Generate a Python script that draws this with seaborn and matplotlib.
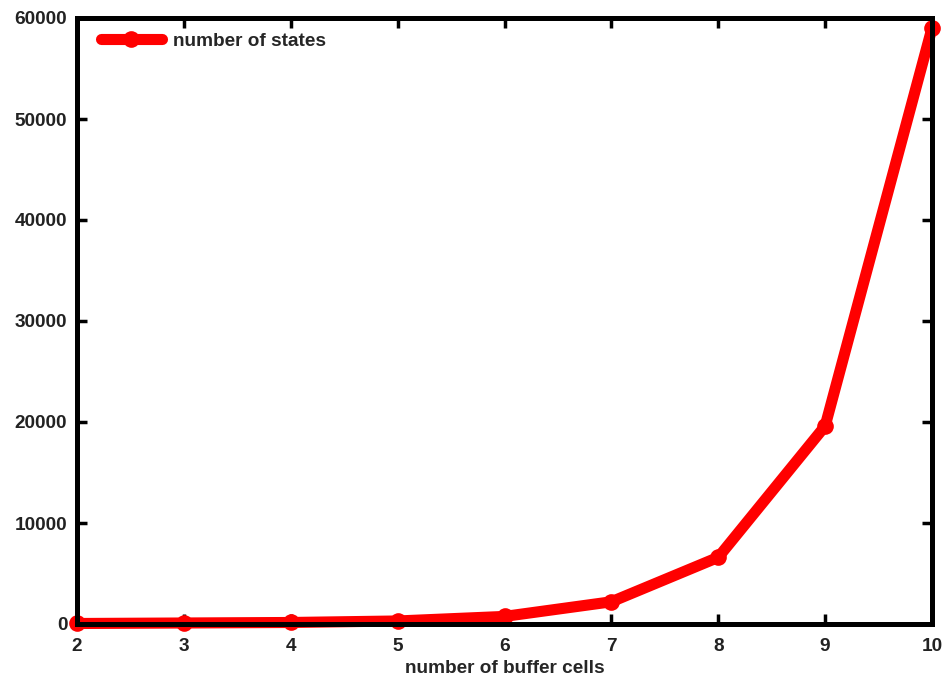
import matplotlib
matplotlib.use("Agg")
import matplotlib.pyplot as plt
import seaborn as sns
import pandas as pd

# values
buffer_cells = [2, 3, 4, 5, 6, 7, 8, 9, 10]
num_states = [50, 100, 150, 300, 750, 2200, 6600, 19600, 59000]

x_ticks = [2, 3, 4, 5, 6, 7, 8, 9, 10]
y_ticks = [0, 10000, 20000, 30000, 40000, 50000, 60000]

df = pd.DataFrame({"cells": buffer_cells, "states": num_states})

sns.set_theme(style="white")
plt.rcParams["font.family"] = ["Liberation Sans", "DejaVu Sans"]
plt.rcParams["font.weight"] = "bold"

FS = 13.7

fig = plt.figure(figsize=(9.43, 6.83), dpi=100)
ax = fig.add_axes([77 / 943, 1 - 624 / 683, (932 - 77) / 943, (624 - 18) / 683])

# frame is drawn on top of the curve, curve may spill past it
sns.lineplot(data=df, x="cells", y="states", ax=ax, color="#ff0000",
             linewidth=8, marker="o", markersize=12, markeredgewidth=0,
             label="number of states", clip_on=False, zorder=2)

ax.set_xlim(2, 10)
ax.set_ylim(0, 60000)
ax.set_xticks(x_ticks)
ax.set_yticks(y_ticks)
ax.set_xticklabels([str(v) for v in x_ticks], fontsize=FS, fontweight="bold")
ax.set_yticklabels([str(v) for v in y_ticks], fontsize=FS, fontweight="bold")
ax.set_xlabel("number of buffer cells", fontsize=FS, fontweight="bold", labelpad=4)
ax.set_ylabel("")

for s in ax.spines.values():
    s.set_visible(True)
    s.set_color("black")
    s.set_linewidth(3.6)
    s.set_zorder(3)

ax.tick_params(direction="in", length=7, width=2.5, colors="black",
               top=True, right=True, bottom=True, left=True, pad=7)
ax.tick_params(axis="x", labelcolor="#222222", pad=10)
ax.tick_params(axis="y", labelcolor="#222222")

leg = ax.legend(loc="upper left", bbox_to_anchor=(0.011, 1.0), frameon=False,
                fontsize=FS, handlelength=3.2, borderaxespad=0.35,
                handletextpad=0.6)
for t in leg.get_texts():
    t.set_fontweight("bold")

fig.savefig("out.png", dpi=100)
